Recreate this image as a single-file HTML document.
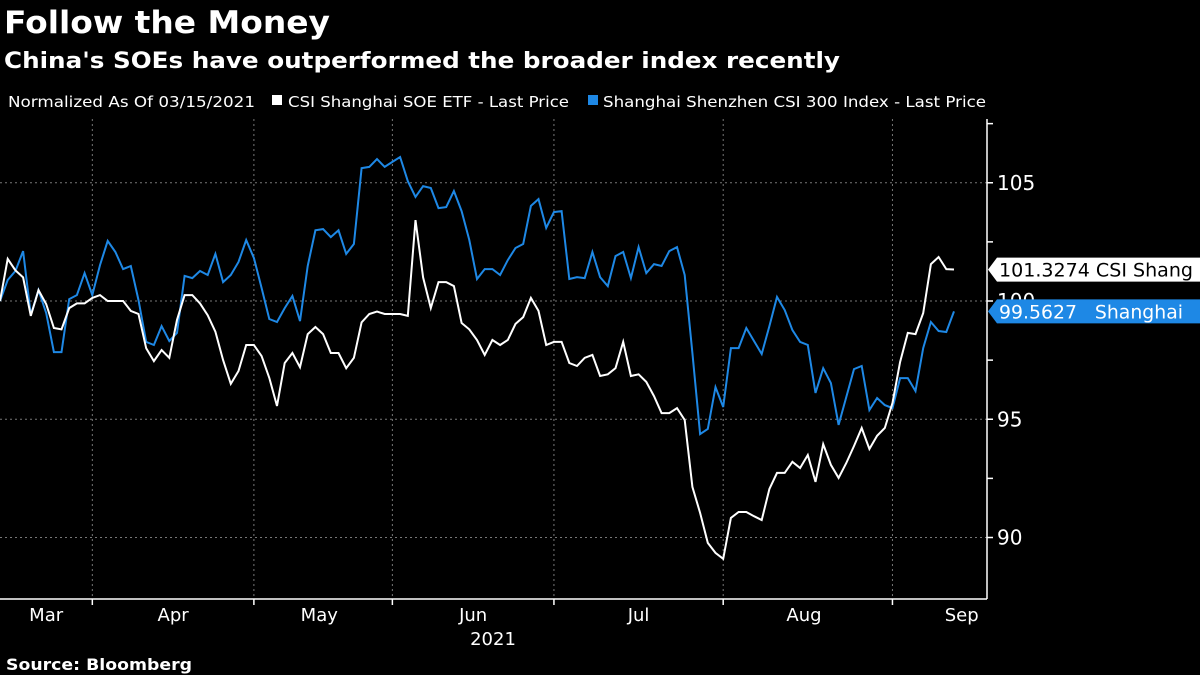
<!DOCTYPE html>
<html><head><meta charset="utf-8"><style>
html,body{margin:0;padding:0;background:#000;}
svg{display:block;}
text{font-family:"DejaVu Sans","Liberation Sans",sans-serif;fill:#fff;}
</style></head><body>
<svg id="chart" width="1200" height="675" viewBox="0 0 1200 675" xmlns="http://www.w3.org/2000/svg">
<rect width="1200" height="675" fill="#000"/>
<text x="4" y="33" font-size="31" font-weight="bold" textLength="326" lengthAdjust="spacingAndGlyphs">Follow the Money</text>
<text x="4" y="68" font-size="22" font-weight="bold" textLength="836" lengthAdjust="spacingAndGlyphs">China's SOEs have outperformed the broader index recently</text>
<g>
<text x="8" y="107" font-size="15" textLength="247" lengthAdjust="spacingAndGlyphs">Normalized As Of 03/15/2021</text>
<rect x="272" y="95" width="10" height="10" fill="#fff"/>
<text x="288" y="107" font-size="15" textLength="281" lengthAdjust="spacingAndGlyphs">CSI Shanghai SOE ETF - Last Price</text>
<rect x="588" y="95" width="10" height="10" fill="#1e88e5"/>
<text x="603" y="107" font-size="15" textLength="383" lengthAdjust="spacingAndGlyphs">Shanghai Shenzhen CSI 300 Index - Last Price</text>
</g>
<g id="grid"></g>
<g id="axes"></g>
<g id="series"></g>
<g id="tags"></g>
<text x="6" y="670" font-size="16" font-weight="bold" textLength="186" lengthAdjust="spacingAndGlyphs">Source: Bloomberg</text>
</svg>
<script>
const soeValues = [100,101.78,101.3,101.0,99.37,100.46,99.87,98.86,98.8,99.7,99.9,99.9,100.13,100.25,100,100,100,99.58,99.45,98.0,97.46,97.93,97.6,99.2,100.25,100.25,99.9,99.4,98.7,97.5,96.5,97.04,98.14,98.14,97.67,96.75,95.56,97.38,97.8,97.2,98.6,98.9,98.6,97.8,97.8,97.16,97.6,99.1,99.45,99.55,99.45,99.45,99.45,99.37,103.42,101.0,99.7,100.8,100.8,100.63,99.07,98.8,98.35,97.72,98.35,98.14,
98.35,99.03,99.32,100.13,99.58,98.14,98.27,98.27,97.38,97.25,97.6,97.72,96.83,96.9,97.16,98.27,96.83,96.9,96.58,95.98,95.26,95.26,95.47,94.97,92.14,91.04,89.77,89.35,89.1,90.83,91.08,91.08,90.9,90.74,92.05,92.73,92.73,93.2,92.94,93.49,92.35,93.95,93.07,92.52,93.15,93.87,94.63,93.74,94.3,94.63,95.69,97.42,98.65,98.6,99.49,101.56,101.86,101.35,101.33];
const csiValues = [100,100.89,101.27,102.11,99.41,100.46,99.49,97.84,97.84,100.08,100.25,101.18,100.25,101.52,102.54,102.07,101.35,101.48,100.04,98.27,98.14,98.94,98.31,98.65,101.06,100.97,101.27,101.1,101.99,100.8,101.1,101.65,102.58,101.82,100.55,99.24,99.11,99.7,100.21,99.15,101.48,102.99,103.04,102.7,102.99,101.99,102.41,105.62,105.67,106.0,105.67,105.88,106.09,105.07,104.4,104.86,104.78,103.93,103.97,104.65,103.8,102.58,100.93,101.35,101.35,101.1,
101.73,102.24,102.41,104.02,104.31,103.09,103.76,103.8,100.93,101.01,100.97,102.07,101.01,100.63,101.9,102.07,100.97,102.28,101.18,101.56,101.48,102.11,102.28,101.1,97.8,94.37,94.59,96.36,95.52,98.01,98.01,98.86,98.31,97.76,98.94,100.17,99.62,98.77,98.27,98.14,96.11,97.16,96.53,94.76,95.94,97.12,97.25,95.39,95.9,95.6,95.47,96.74,96.74,96.19,98.01,99.11,98.73,98.69,99.56];
const yTickValues = [105,100,95,90];
const yMinorTicks = [107.5,102.5,97.5,92.5];
const monthLabels = ["Mar","Apr","May","Jun","Jul","Aug","Sep"];
const monthLabelIdx = [6,22.5,41.5,61.5,83,104.5,125];
const monthBoundIdx = [12,33,51,72,94,116];
const soeLast = "101.3274";
const csiLast = "99.5627";

const NS="http://www.w3.org/2000/svg";
const X0=0, XSTEP=954/124;
function xScale(i){return X0+i*XSTEP;}
function yScale(v){return 301-(v-100)*23.65;}
function mk(tag,attrs,parent){const e=document.createElementNS(NS,tag);for(const k in attrs)e.setAttribute(k,attrs[k]);parent.appendChild(e);return e;}
const grid=document.getElementById('grid'), axes=document.getElementById('axes'), series=document.getElementById('series'), tags=document.getElementById('tags');

yTickValues.forEach(v=>{
  const l=mk('line',{x1:0,x2:987,y1:yScale(v),y2:yScale(v),stroke:'#777','stroke-dasharray':'2,3','stroke-width':1},grid);
  
  
  const t=mk('line',{x1:987,x2:993,y1:yScale(v),y2:yScale(v),stroke:'#fff','stroke-width':1.5},axes);
  
  
  const tx=mk('text',{x:997,y:yScale(v)+7,'font-size':20},axes);
  tx.textContent=v;
  
  
});
yMinorTicks.forEach(v=>{
  const t=mk('line',{x1:987,x2:993,y1:yScale(v),y2:yScale(v),stroke:'#fff','stroke-width':1.5},axes);
  
  
});
monthBoundIdx.forEach(i=>{
  const x=xScale(i);
  const l=mk('line',{x1:x,x2:x,y1:119,y2:599,stroke:'#777','stroke-dasharray':'2,3','stroke-width':1},grid);
  
  
  const t=mk('line',{x1:x,x2:x,y1:599,y2:605,stroke:'#fff','stroke-width':1.5},axes);
  
  
});
monthLabels.forEach((m,k)=>{
  const tx=mk('text',{x:xScale(monthLabelIdx[k]),y:621,'font-size':18,'text-anchor':'middle'},axes);
  tx.textContent=m;
  
  
});
const yr=mk('text',{x:493,y:645,'font-size':18,'text-anchor':'middle'},axes);
yr.textContent='2021';


const ya=mk('line',{x1:987,x2:987,y1:119,y2:599,stroke:'#fff','stroke-width':1.5},axes);


const xa=mk('line',{x1:0,x2:987,y1:599,y2:599,stroke:'#fff','stroke-width':1.5},axes);



function drawLine(vals,color,name){
  const d=vals.map((v,i)=>(i?'L':'M')+xScale(i).toFixed(1)+' '+yScale(v).toFixed(1)).join(' ');
  const p=mk('path',{d:d,fill:'none',stroke:color,'stroke-width':2,'stroke-linejoin':'miter'},series);
  
  
}
drawLine(csiValues,'#1e88e5','csi300-line');
drawLine(soeValues,'#ffffff','soe-etf-line');

function tag(val,label,bg,fg,name,len){
  const y=yScale(parseFloat(val));
  const g=mk('g',{},tags);
  
  
  mk('path',{d:`M988 ${y} L997 ${y-12} L1200 ${y-12} L1200 ${y+12} L997 ${y+12} Z`,fill:bg},g);
  const t=mk('text',{x:999,y:y+7,'font-size':19,fill:fg,style:'fill:'+fg+';white-space:pre','xml:space':'preserve',textLength:len,lengthAdjust:'spacingAndGlyphs'},g);
  t.textContent=label;
}
tag(soeLast,soeLast+' CSI Shang','#fff','#000','soe-last-value-tag',194);
tag(csiLast,csiLast+'   Shanghai','#1e88e5','#fff','csi300-last-value-tag',184);
</script>
</body></html>
